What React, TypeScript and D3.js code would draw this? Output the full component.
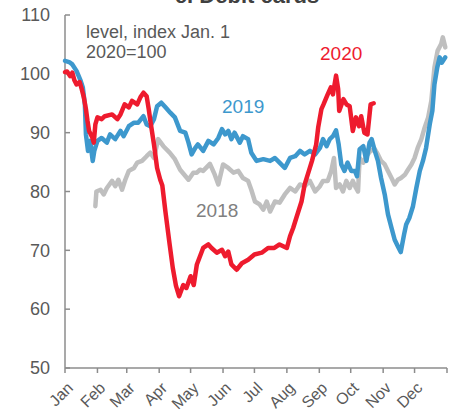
import React from "react";
import * as d3 from "d3";

// day-of-year, value
const series2018: [number, number][] = [
  [29, 77.5], [30, 80.0], [34, 80.3], [37, 79.5], [40, 80.6], [45, 81.8], [48, 80.9], [51, 82.0],
  [54.5, 80.3], [57.6, 82.0], [61, 83.5], [66, 84.0], [69, 84.9], [73.6, 85.2], [78, 86.0],
  [81.5, 86.6], [85, 85.7], [89, 88.9], [94, 87.7], [100, 86.6], [105, 85.5], [110, 83.7],
  [118, 82.0], [122.6, 83.2], [126, 83.2], [129, 83.7], [132, 83.5], [138.5, 84.7], [143, 82.9],
  [146.5, 81.2], [151, 84.6], [156, 84.0], [161, 83.2], [165.6, 83.5], [170, 82.3], [175, 81.8],
  [178, 80.3], [181.5, 78.3], [186, 77.8], [189.5, 76.9], [192.7, 78.3], [196, 76.6], [200.6, 78.3],
  [205, 78.1], [210, 79.5], [215, 80.6], [220, 80.0], [224.5, 81.2], [229, 80.9], [234, 81.8],
  [239, 80.0], [243.6, 80.9], [246.5, 81.8], [251, 81.8], [254.4, 83.5], [257, 85.7], [259, 80.6],
  [262.5, 81.2], [265.6, 80.0], [268.8, 81.8], [272, 80.6], [275, 81.8], [278, 80.6], [280, 80.0],
  [281.5, 85.7], [285, 84.9], [288, 86.0], [292, 86.9], [296, 87.2], [299, 86.3], [302, 85.2],
  [305.5, 84.6], [308.6, 83.5], [312, 82.3], [315, 81.2], [318, 82.0], [321, 82.3], [325, 82.9],
  [327.7, 83.7], [331, 84.6], [334, 85.7], [337, 87.4], [340.5, 88.9], [343.7, 90.9], [347, 92.6],
  [350, 95.4], [353, 101.1], [356, 103.9], [359.5, 105.1], [361, 106.2], [363.4, 104.5],
];

const series2019: [number, number][] = [
  [0, 102.2], [4, 102.0], [7, 101.6], [11, 100.5], [15, 98.8], [17, 97.7], [19, 94.8], [20, 89.7],
  [22, 86.9], [24, 88.6], [26.5, 85.2], [28, 86.9], [31, 88.6], [35, 89.1], [40, 88.3], [43, 89.7],
  [48, 88.9], [53, 90.3], [56, 89.4], [61, 91.1], [66, 91.7], [70, 91.7], [75, 92.8], [78, 91.4],
  [81.5, 91.1], [85, 92.3], [88, 94.5], [92, 95.1], [96, 94.3], [100.6, 93.4], [105, 92.6],
  [110, 90.3], [115, 90.0], [118, 88.3], [121, 86.3], [124.5, 87.4], [127, 88.0], [132, 86.9],
  [137, 88.6], [142, 88.0], [146.5, 89.1], [150, 90.6], [153, 89.7], [156, 90.3], [159, 88.9],
  [162, 90.0], [167, 88.3], [170, 89.4], [175, 88.9], [178, 86.6], [183, 85.2], [189.5, 85.5],
  [196, 85.2], [200.6, 85.7], [205, 84.9], [210, 84.0], [215, 85.7], [220, 86.0], [224.5, 86.9],
  [229, 86.3], [234, 86.9], [239, 86.3], [243.6, 87.4], [246.5, 88.9], [250, 87.7], [253, 88.9],
  [256, 89.4], [259, 90.4], [261.5, 88.0], [264, 84.6], [267, 83.5], [270, 84.9], [273.5, 83.5],
  [277, 83.5], [279, 82.6], [281.5, 87.2], [285, 87.7], [288, 85.2], [291, 88.3], [293, 88.9],
  [296, 86.9], [299, 85.2], [302, 82.3], [305.5, 79.5], [308.6, 76.1], [312, 73.8], [315, 71.8],
  [318, 70.7], [320.8, 69.7], [324, 72.7], [326, 74.4], [329, 75.5], [332.5, 77.5], [335.7, 80.6],
  [339, 83.5], [342, 85.2], [345, 87.4], [348.5, 91.4], [351, 93.7], [353, 98.2], [355.7, 101.1],
  [358, 102.8], [360, 101.9], [363.4, 102.8],
];

const series2020: [number, number][] = [
  [0, 100.3], [2, 100.4], [5, 99.6], [7, 100.2], [9, 98.9], [11, 98.2], [14, 98.6], [16, 97.4],
  [18, 96.0], [20, 94.0], [21.5, 92.0], [23, 90.3], [26, 89.2], [27.5, 88.3], [29, 91.4], [31, 92.6],
  [35, 92.3], [38, 92.8], [45, 93.1], [50, 92.3], [53, 93.1], [57, 94.8], [61, 94.3], [64, 95.4],
  [69, 94.8], [72, 96.0], [75, 96.8], [78, 96.2], [80, 94.0], [82, 91.5], [85, 88.0], [88, 84.0],
  [91, 82.0], [93, 81.0], [96, 76.5], [100, 71.0], [103, 67.0], [106, 64.0], [109, 62.2],
  [113, 64.1], [116, 63.6], [120, 65.6], [123, 64.1], [126, 67.6], [132, 70.4], [137, 71.0],
  [140, 70.4], [145, 69.6], [150, 70.1], [153, 69.0], [156, 69.8], [159, 67.6], [164, 66.7],
  [169, 67.8], [175, 68.4], [181, 69.3], [188, 69.6], [194, 70.4], [200, 70.4], [205, 71.0],
  [212, 70.4], [215, 72.4], [218, 73.8], [221, 75.5], [226, 78.3], [229, 81.2], [232, 82.9],
  [236, 85.2], [240, 88.0], [242, 91.0], [245, 94.0], [247, 94.8], [251, 96.5], [254, 97.7],
  [256, 96.5], [259, 99.7], [261, 97.4], [262, 93.7], [266, 95.7], [269, 94.8], [272, 94.5],
  [275, 90.3], [278, 92.6], [281, 91.1], [283, 92.8], [286, 90.0], [289, 89.7], [292, 94.8],
  [295, 95.0],
];

const monthLabels = ["Jan", "Feb", "Mar", "Apr", "May", "Jun", "Jul", "Aug", "Sep", "Oct", "Nov", "Dec"];
const monthStarts = [0, 31, 59, 90, 120, 151, 181, 212, 243, 273, 304, 334, 365];
const yTicks = [50, 60, 70, 80, 90, 100, 110];

const W = 453;
const H = 415;
const textColor = "#595959";
const axisColor = "#8c8c8c";
const font = "'Liberation Sans', Arial, sans-serif";

export default function App() {
  const x = d3.scaleLinear().domain([0, 365]).range([65, 447]);
  const y = d3.scaleLinear().domain([50, 110]).range([368, 15]);
  const line = d3
    .line<[number, number]>()
    .x((d) => x(d[0]))
    .y((d) => y(d[1]));

  const lines = [
    { data: series2018, color: "#bfbfbf" },
    { data: series2019, color: "#3d98cd" },
    { data: series2020, color: "#ee1b2e" },
  ];

  return (
    <svg
      width={W}
      height={H}
      style={{ position: "absolute", left: 0, top: 0, background: "#fff" }}
      fontFamily={font}
    >
      <text x={247} y={3} textAnchor="middle" fontSize={22} fontWeight="bold" fill="#404040">
        c. Debit cards
      </text>

      {/* y axis */}
      <line x1={65} x2={65} y1={y(110)} y2={y(50)} stroke={axisColor} strokeWidth={1.5} />
      {yTicks.map((t) => (
        <g key={t}>
          <line x1={65} x2={70} y1={y(t)} y2={y(t)} stroke={axisColor} strokeWidth={1.5} />
          <text x={50} y={y(t)} dy="0.35em" textAnchor="end" fontSize={18} fill={textColor}>
            {t}
          </text>
        </g>
      ))}

      {/* x axis */}
      <line x1={x(0)} x2={x(365)} y1={y(50)} y2={y(50)} stroke={axisColor} strokeWidth={1.5} />
      {monthStarts.map((m) => (
        <line key={m} x1={x(m)} x2={x(m)} y1={y(50)} y2={y(50) + 5} stroke={axisColor} strokeWidth={1.5} />
      ))}
      {monthLabels.map((lab, i) => (
        <text
          key={lab}
          transform={`translate(${x(monthStarts[i]) + 5},${y(50) + 17}) rotate(-45)`}
          textAnchor="end"
          dy="0.35em"
          fontSize={16}
          fill={textColor}
        >
          {lab}
        </text>
      ))}

      {lines.map((l, i) => (
        <path
          key={i}
          d={line(l.data) || ""}
          fill="none"
          stroke={l.color}
          strokeWidth={4.5}
          strokeLinejoin="round"
          strokeLinecap="round"
        />
      ))}

      <text x={86} y={38} fontSize={18} fill={textColor}>level, index Jan. 1</text>
      <text x={86} y={58} fontSize={18} fill={textColor}>2020=100</text>
      <text x={320} y={60} fontSize={19} fill="#ee1b2e">2020</text>
      <text x={222} y={113} fontSize={19} fill="#3d98cd">2019</text>
      <text x={196} y={217} fontSize={19} fill="#808080">2018</text>
    </svg>
  );
}
